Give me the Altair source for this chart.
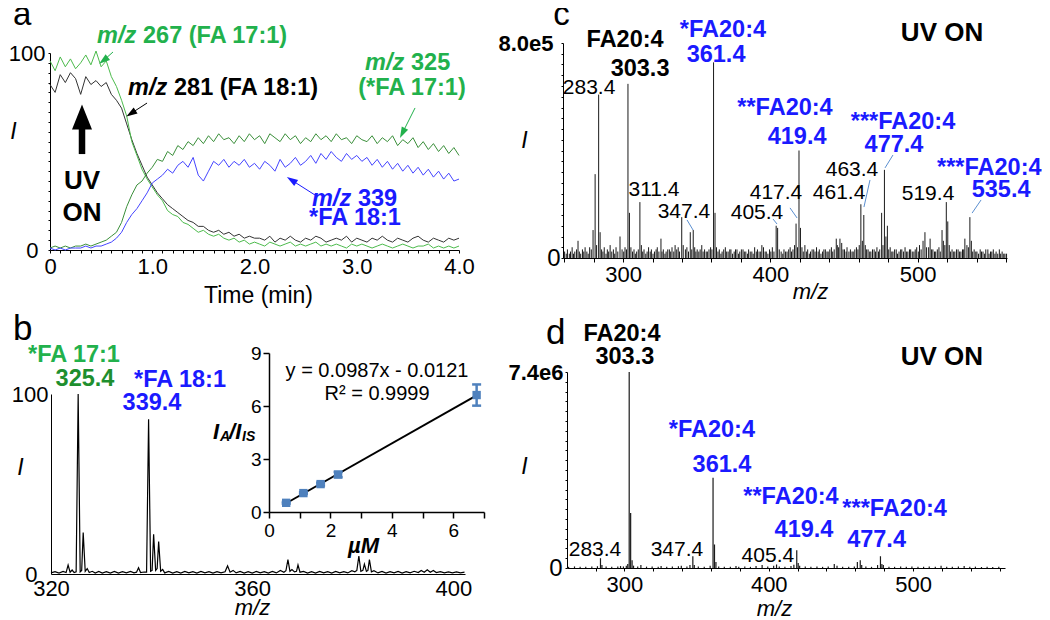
import altair as alt
import pandas as pd

W, H = 1034, 612
FONT = "Liberation Sans"
GREEN = "#22b14c"
DKGREEN = "#1e8f2e"
BLUE = "#1a1aff"
LEADER = "#5b8fd0"
MARKER = "#4f81bd"

# ---------------- panel a : ion traces vs time ----------------
a_time = [i / 20 for i in range(81)]  # sampling grid, 0.05 min
a_mz267 = [96, 91, 98, 93, 97, 92, 95, 99, 94, 101, 93, 96, 88, 83, 76, 68, 55, 48, 41, 36,
           32, 28, 25, 20, 18, 17, 14, 13, 11, 9, 10, 8, 7, 8, 6, 5, 6, 4, 5, 3,
           4, 3, 2, 4, 3, 2, 3, 4, 2, 3, 2, 3, 4, 2, 3, 2, 3, 2, 1, 3,
           2, 3, 2, 1, 2, 3, 2, 1, 2, 3, 2, 1, 2, 2, 3, 1, 2, 1, 2, 1, 2]
a_mz281 = [84, 80, 89, 85, 90, 87, 79, 88, 84, 86, 83, 85, 79, 76, 72, 64, 56, 49, 43, 37,
           33, 29, 26, 23, 21, 19, 17, 15, 14, 12, 12, 10, 9, 10, 8, 9, 7, 8, 6, 7,
           6, 6, 5, 7, 4, 6, 5, 7, 5, 4, 6, 5, 7, 6, 4, 5, 6, 5, 7, 4,
           6, 5, 4, 6, 5, 7, 5, 4, 6, 5, 4, 6, 7, 5, 4, 6, 5, 4, 6, 5, 6]
a_mz325 = [1, 2, 1, 2, 1, 2, 2, 3, 2, 3, 4, 5, 7, 9, 14, 22, 28, 33, 35, 39,
           42, 46, 45, 50, 48, 53, 51, 55, 53, 57, 54, 58, 55, 59, 56, 57, 54, 58, 55, 59,
           56, 58, 54, 59, 57, 55, 59, 56, 58, 54, 57, 55, 59, 56, 58, 55, 59, 56, 57, 54,
           58, 56, 55, 58, 54, 57, 55, 58, 53, 56, 54, 57, 52, 55, 51, 54, 50, 53, 49, 52, 48]
a_mz339 = [1, 0, 1, 0, 1, 1, 1, 2, 1, 2, 2, 3, 4, 6, 9, 14, 18, 21, 25, 29,
           34, 36, 38, 41, 39, 43, 45, 42, 47, 38, 35, 40, 45, 43, 46, 42, 45, 43, 46, 42,
           44, 41, 45, 43, 40, 46, 42, 44, 47, 43, 45, 48, 44, 49, 46, 50, 47, 45, 49, 46,
           48, 45, 47, 43, 46, 42, 45, 41, 44, 40, 43, 39, 42, 38, 41, 37, 40, 36, 39, 35, 36]
a_series = ["m/z 281", "m/z 267", "m/z 325", "m/z 339"]
a_colors = ["#333333", "#4cbb4c", "#3a8f3a", "#4545ff"]

# ---------------- panel b : spectrum (m/z, relative intensity) ----------------
b_spectrum = [
    (320.0, 0.6), (320.8, 1.3), (321.6, 0.5), (322.4, 1.4), (323.0, 0.8), (323.4, 5.0), (323.8, 1.0),
    (324.2, 2.2), (324.6, 0.8), (325.0, 1.2), (325.4, 100), (325.8, 1.2), (326.1, 2.0), (326.4, 23),
    (326.8, 1.5), (327.2, 3.0), (327.6, 0.8), (328.2, 1.5), (328.8, 0.5), (329.5, 1.4), (330.2, 0.5),
    (331.0, 1.3), (331.8, 0.5), (332.6, 1.4), (333.4, 0.5), (334.2, 1.3), (335.0, 0.6), (335.8, 1.4),
    (336.5, 0.6), (337.0, 1.0), (337.4, 3.5), (337.8, 0.8), (338.5, 1.1), (339.0, 1.0), (339.4, 86),
    (339.8, 1.5), (340.1, 2.0), (340.4, 22), (340.8, 2.0), (341.1, 3.0), (341.4, 18), (341.8, 1.5),
    (342.2, 2.5), (342.6, 0.6), (343.4, 1.4), (344.2, 0.5), (345.0, 1.3), (345.8, 0.5), (346.6, 1.4),
    (347.4, 0.6), (348.2, 1.3), (349.0, 0.5), (349.8, 1.4), (350.6, 0.6), (351.4, 1.3), (352.2, 0.5),
    (353.0, 1.3), (353.8, 0.6), (354.6, 1.2), (355.1, 4.5), (355.6, 1.0), (356.2, 2.0), (356.8, 0.6),
    (357.6, 1.4), (358.4, 0.5), (359.2, 1.3), (360.0, 0.5), (360.8, 1.4), (361.6, 0.6), (362.4, 1.3),
    (363.2, 0.5), (364.0, 1.4), (364.8, 0.6), (365.6, 2.0), (366.3, 1.0), (366.7, 1.8), (367.1, 8.0),
    (367.5, 1.5), (367.9, 2.5), (368.4, 1.2), (368.8, 1.5), (369.1, 5.0), (369.5, 1.0), (370.2, 1.4),
    (371.0, 0.5), (371.8, 1.3), (372.6, 0.5), (373.4, 1.4), (374.2, 0.6), (375.0, 1.3), (375.8, 0.5),
    (376.6, 1.4), (377.4, 0.6), (378.2, 1.3), (379.0, 0.6), (379.8, 1.8), (380.4, 1.2), (380.8, 2.0),
    (381.2, 10), (381.6, 1.5), (382.0, 2.0), (382.3, 5.5), (382.7, 1.5), (383.0, 2.0), (383.3, 8.0),
    (383.7, 1.2), (384.2, 1.8), (385.0, 0.6), (385.8, 1.4), (386.6, 0.5), (387.4, 1.3), (388.2, 0.6),
    (389.0, 1.4), (389.8, 0.5), (390.6, 1.3), (391.4, 0.6), (392.2, 1.5), (393.0, 0.8), (393.6, 2.0),
    (394.2, 1.0), (394.8, 2.3), (395.4, 1.0), (396.0, 2.0), (396.6, 0.8), (397.4, 1.3), (398.2, 0.6),
    (399.0, 1.2), (399.8, 0.6), (400.6, 1.2), (401.4, 0.6), (402.2, 1.0)]

# ---------------- panel b inset : calibration ----------------
ins_conc = [0.56, 1.12, 1.68, 2.25, 6.76]
ins_ratio = [0.52, 1.07, 1.58, 2.12, 6.62]
ins_err = [0.05, 0.05, 0.08, 0.15, 0.6]

# ---------------- panel c : spectrum (m/z, % of 8.0e5) ----------------
c_peaks = [
    (260.3, 3), (261.4, 2), (262.2, 4), (263.5, 2), (264.3, 3), (265.4, 5), (266.3, 2), (267.2, 3),
    (268.4, 4), (269.4, 8), (270.3, 3), (271.2, 2), (272.4, 4), (273.3, 3), (274.2, 5), (275.4, 3),
    (276.3, 2), (277.3, 5), (278.4, 4), (279.6, 13), (281.0, 39), (282.0, 6), (283.4, 76), (284.4, 12),
    (285.4, 4), (286.3, 3), (287.2, 5), (288.4, 2), (289.3, 4), (290.2, 3), (291.2, 6), (292.3, 3),
    (293.4, 4), (294.3, 2), (295.2, 5), (296.4, 3), (297.9, 10), (299.3, 4), (300.4, 3), (301.3, 5),
    (302.3, 4), (303.3, 81), (304.3, 21), (305.3, 5), (306.4, 3), (307.4, 4), (308.3, 2), (309.2, 3),
    (310.3, 4), (311.4, 26), (312.4, 6), (313.3, 3), (314.2, 4), (315.4, 2), (316.3, 3), (317.3, 5),
    (318.4, 3), (319.2, 4), (320.3, 2), (321.3, 3), (322.4, 4), (323.2, 5), (324.3, 3), (325.7, 9),
    (326.4, 3), (327.3, 4), (328.4, 2), (329.2, 3), (330.3, 4), (331.4, 4), (332.3, 3), (333.2, 5),
    (334.4, 3), (335.3, 6), (336.4, 4), (337.4, 5), (338.3, 3), (339.8, 19), (340.8, 6), (342.3, 4),
    (343.3, 5), (344.4, 3), (345.6, 12), (346.6, 4), (347.6, 13), (348.6, 5), (349.4, 3), (350.3, 4),
    (351.4, 3), (352.3, 4), (353.4, 6), (354.3, 3), (355.3, 4), (356.4, 3), (357.2, 3), (358.3, 4),
    (359.4, 5), (360.3, 4), (361.4, 91), (362.4, 21), (363.4, 5), (364.4, 3), (365.3, 4), (366.4, 2),
    (367.2, 3), (368.3, 4), (369.4, 5), (370.3, 3), (371.3, 3), (372.4, 4), (373.2, 4), (374.3, 2),
    (375.4, 3), (376.3, 4), (377.3, 4), (378.4, 2), (379.2, 3), (380.3, 4), (381.4, 4), (382.3, 3),
    (383.3, 3), (384.4, 2), (385.2, 4), (386.3, 3), (387.4, 3), (388.3, 2), (389.3, 5), (390.4, 3),
    (391.2, 4), (392.3, 3), (393.4, 3), (394.2, 6), (395.3, 5), (396.4, 3), (397.2, 3), (398.3, 2),
    (399.4, 4), (400.3, 3), (401.3, 5), (402.4, 3), (403.9, 15), (404.9, 14), (406.0, 4), (407.3, 3),
    (408.4, 2), (409.2, 4), (410.3, 3), (411.3, 3), (412.4, 4), (413.4, 5), (414.3, 3), (415.3, 4),
    (416.4, 6), (417.4, 16), (418.4, 5), (419.4, 50), (420.4, 14), (421.4, 5), (422.3, 3), (423.4, 6),
    (424.4, 3), (425.3, 4), (426.4, 2), (427.2, 3), (428.3, 4), (429.4, 4), (430.3, 3), (431.3, 5),
    (432.4, 3), (433.2, 4), (434.3, 2), (435.4, 3), (436.3, 4), (437.3, 4), (438.4, 3), (439.2, 3),
    (440.3, 4), (441.4, 5), (442.3, 3), (443.3, 4), (444.7, 9), (445.4, 6), (446.3, 5), (447.2, 9),
    (448.4, 7), (449.3, 4), (450.3, 4), (451.4, 3), (452.0, 5), (453.3, 3), (454.3, 4), (455.4, 3),
    (456.2, 3), (457.3, 4), (458.4, 5), (459.4, 4), (460.3, 6), (461.4, 25), (462.4, 8), (463.4, 20),
    (464.4, 6), (465.3, 4), (466.3, 4), (467.4, 3), (468.2, 3), (469.3, 4), (470.4, 4), (471.3, 3),
    (472.3, 5), (473.4, 3), (474.2, 4), (475.5, 21), (476.4, 6), (477.4, 41), (478.4, 10), (479.4, 15),
    (480.3, 4), (481.3, 5), (482.4, 3), (483.2, 3), (484.3, 4), (485.4, 4), (486.3, 2), (487.3, 3),
    (488.4, 4), (489.2, 4), (490.3, 3), (491.4, 5), (492.3, 3), (493.3, 3), (494.4, 4), (495.2, 4),
    (496.3, 3), (497.4, 3), (498.3, 4), (499.3, 5), (500.4, 3), (501.2, 6), (502.3, 4), (503.6, 8),
    (504.9, 12), (506.0, 5), (507.4, 5), (508.4, 9), (509.4, 4), (510.3, 4), (511.4, 3), (512.2, 3),
    (513.3, 4), (514.4, 5), (515.3, 3), (516.5, 13), (517.4, 8), (518.4, 6), (519.4, 26), (520.4, 17),
    (521.4, 6), (522.3, 3), (523.3, 4), (524.4, 3), (525.2, 3), (526.3, 4), (527.4, 4), (528.3, 3),
    (529.3, 3), (530.4, 4), (531.2, 4), (532.0, 9), (533.4, 6), (534.4, 5), (535.4, 19), (536.4, 8),
    (537.3, 3), (538.3, 4), (539.4, 3), (540.2, 3), (541.3, 2), (542.4, 4), (543.3, 3), (544.3, 3),
    (545.4, 2), (546.2, 4), (547.6, 4), (548.4, 2), (549.4, 3), (550.3, 3), (551.3, 4), (552.4, 2),
    (553.2, 3), (554.3, 2), (555.4, 4), (556.3, 2), (557.3, 3), (558.4, 2), (559.2, 2), (560.3, 2)]

# ---------------- panel d : spectrum (m/z, % of 7.4e6) ----------------
d_peaks = [
    (261.3, 0.6), (265.4, 0.8), (269.3, 0.7), (273.2, 0.6), (277.4, 0.8), (281.3, 0.9), (283.4, 5),
    (284.4, 1.5), (287.3, 0.8), (291.2, 0.7), (295.4, 0.8), (297.3, 1.0), (299.3, 0.8), (301.3, 1.2),
    (302.3, 2), (303.3, 100), (304.3, 28), (305.3, 4), (306.3, 1.2), (309.2, 0.8), (311.4, 1.5),
    (315.3, 0.7), (319.2, 0.8), (323.4, 0.6), (325.4, 1.0), (329.3, 0.7), (333.2, 0.8), (337.4, 0.9),
    (339.4, 1.2), (343.3, 0.8), (345.4, 1.5), (347.4, 6), (348.4, 1.5), (351.2, 0.8), (355.3, 0.7),
    (359.4, 1.2), (361.4, 46), (362.4, 12), (363.4, 3), (365.3, 0.8), (369.2, 0.7), (373.4, 0.6),
    (377.3, 1.0), (379.2, 0.7), (383.4, 0.8), (387.3, 0.6), (391.2, 1.0), (395.4, 1.5), (399.3, 0.8),
    (403.4, 1.2), (405.4, 1.8), (407.3, 0.8), (411.2, 0.6), (415.4, 1.0), (417.4, 1.6), (419.4, 9),
    (420.4, 2.5), (421.4, 1.2), (425.3, 0.8), (429.2, 0.6), (433.4, 0.8), (437.3, 0.6), (441.2, 0.8),
    (445.4, 2), (447.3, 1.2), (451.2, 0.7), (455.4, 0.6), (459.3, 0.8), (461.4, 3), (463.4, 4),
    (464.4, 1.5), (467.3, 0.8), (471.2, 0.6), (475.4, 1.5), (477.4, 6), (478.4, 2), (479.4, 1.5),
    (483.3, 0.7), (487.2, 0.6), (491.4, 0.8), (495.3, 0.6), (499.2, 0.8), (503.4, 0.7), (507.3, 0.6),
    (511.2, 0.8), (515.4, 0.6), (519.4, 1.2), (523.3, 0.7), (527.2, 0.6), (531.4, 0.8), (535.4, 1.0),
    (539.3, 0.6), (543.2, 0.7), (547.4, 0.5), (551.3, 0.6), (555.2, 0.5), (559.4, 0.6)]


# ---------------- helpers ----------------
def lin(domain, rng):
    return alt.Scale(domain=domain, range=rng, zero=False, nice=False)


SA_X = lin([0, 4], [42, 451]);        SA_Y = lin([0, 100], [242, 45])
SB_X = lin([320, 402.3], [43, 457]);  SB_Y = lin([0, 100], [566, 386])
SI_X = lin([0, 7], [261, 476]);       SI_Y = lin([0, 9], [504, 345])
SC_X = lin([259.2, 560.6], [555, 999]); SC_Y = lin([0, 100], [250, 35])
SD_X = lin([260.2, 563.7], [559, 997]); SD_Y = lin([0, 100], [560, 364])


def texts(rows, sx, sy, **kw):
    df = pd.DataFrame(rows, columns=["x", "y", "label"])
    base = dict(font=FONT, fontSize=23.5, fontWeight="bold", align="center", baseline="middle")
    base.update(kw)
    return alt.Chart(df).mark_text(**base).encode(
        x=alt.X("x:Q", scale=sx, axis=None),
        y=alt.Y("y:Q", scale=sy, axis=None),
        text="label:N")


def segs(rows, sx, sy, color, width=1.0):
    df = pd.DataFrame(rows, columns=["x", "y", "x2", "y2"])
    return alt.Chart(df).mark_rule(color=color, strokeWidth=width).encode(
        x=alt.X("x:Q", scale=sx, axis=None), y=alt.Y("y:Q", scale=sy, axis=None),
        x2="x2:Q", y2="y2:Q")


HEAD = "M0,-1L-0.65,1L0.65,1Z"
BIGHEAD = "M0,-1L-0.8,1L0.8,1Z"


def heads(rows, sx, sy, color, shape=HEAD, size=121):
    df = pd.DataFrame(rows, columns=["x", "y", "ang"])
    return alt.Chart(df).mark_point(shape=shape, filled=True, size=size, color=color,
                                    opacity=1, strokeWidth=0).encode(
        x=alt.X("x:Q", scale=sx, axis=None), y=alt.Y("y:Q", scale=sy, axis=None),
        angle=alt.Angle("ang:Q", scale=None))


def cond(test, a, b):
    return {"condition": {"test": test, "value": a}, "value": b}


layers = []

# ---------------- panel a ----------------
dfa = pd.DataFrame({
    "t": a_time * 4,
    "I": a_mz281 + a_mz267 + a_mz325 + a_mz339,
    "s": sum([[s] * len(a_time) for s in a_series], []),
})
layers.append(alt.Chart(dfa).mark_line(strokeWidth=1).encode(
    x=alt.X("t:Q", scale=SA_X, axis=alt.Axis(
        orient="bottom", offset=242 - H, values=[i / 10 for i in range(41)],
        labelExpr="datum.value == 0 ? '0' : (abs(datum.value - round(datum.value)) < 0.001 ? format(datum.value, '.1f') : '')",
        tickSize=3, labelFontSize=22, labelPadding=3, labelFlush=False,
        title="Time (min)", titleFontSize=23, titleFontWeight="normal",
        titleX=250, titleY=45, titleAlign="center", titleBaseline="middle")),
    y=alt.Y("I:Q", scale=SA_Y, axis=alt.Axis(
        orient="left", offset=-42, values=list(range(0, 101, 5)),
        labelExpr="datum.value == 0 || datum.value == 100 ? datum.label : ''",
        tickSize=2, labelFontSize=22, labelPadding=cond("datum.value == 0", 10, 3),
        labelFlush=False,
        title="I", titleFontStyle="italic", titleFontWeight="normal", titleFontSize=23,
        titleAngle=0, titleX=-37, titleY=123, titleAlign="center", titleBaseline="middle")),
    color=alt.Color("s:N", scale=alt.Scale(domain=a_series, range=a_colors), legend=None),
))

layers.append(texts([(-0.362, 114.2, "a")], SA_X, SA_Y, fontSize=33, fontWeight="normal",
                    align="left", baseline="alphabetic"))
layers.append(texts([(0.46, 108.6, "m/z"), (3.081, 94.9, "m/z")], SA_X, SA_Y,
                    color=GREEN, align="left", fontStyle="italic"))
layers.append(texts([(0.46, 108.6, "267 (FA 17:1)"), (3.081, 94.9, "325")], SA_X, SA_Y,
                    color=GREEN, align="left", dx=46))
layers.append(texts([(3.54, 82.2, "(*FA 17:1)")], SA_X, SA_Y, color=GREEN))
layers.append(texts([(0.763, 82.2, "m/z")], SA_X, SA_Y, color="black", align="left", fontStyle="italic"))
layers.append(texts([(0.763, 82.2, "281 (FA 18:1)")], SA_X, SA_Y, color="black", align="left", dx=46))
layers.append(texts([(2.562, 25.9, "m/z")], SA_X, SA_Y, color=BLUE, align="left", fontStyle="italic"))
layers.append(texts([(2.562, 25.9, "339")], SA_X, SA_Y, color=BLUE, align="left", dx=46))
layers.append(texts([(2.983, 16.2, "*FA 18:1")], SA_X, SA_Y, color=BLUE))
layers.append(texts([(0.313, 35.0, "UV"), (0.313, 18.8, "ON")], SA_X, SA_Y, fontSize=26, color="black"))

# arrows in panel a
layers.append(segs([(0.616, 100.5, 0.523, 96.2), (3.570, 72.1, 3.447, 59.4)], SA_X, SA_Y, GREEN))
layers.append(heads([(0.523, 96.2, 232), (3.447, 59.4, 207)], SA_X, SA_Y, GREEN))
layers.append(segs([(0.949, 74.6, 0.792, 69.3)], SA_X, SA_Y, "black"))
layers.append(heads([(0.792, 69.3, 237)], SA_X, SA_Y, "black"))
layers.append(segs([(2.592, 27.9, 2.362, 35.5)], SA_X, SA_Y, BLUE))
layers.append(heads([(2.362, 35.5, 303)], SA_X, SA_Y, BLUE))
layers.append(segs([(0.313, 48.7, 0.313, 62.5)], SA_X, SA_Y, "black", width=6.5))
layers.append(heads([(0.313, 67.5, 0)], SA_X, SA_Y, "black", shape=BIGHEAD, size=625))

# ---------------- panel b ----------------
dfb = pd.DataFrame(b_spectrum, columns=["mz", "I"])
layers.append(alt.Chart(dfb).mark_line(color="black", strokeWidth=1.2).encode(
    x=alt.X("mz:Q", scale=SB_X, axis=alt.Axis(
        orient="bottom", offset=566 - H, values=[320, 360, 400], ticks=False,
        labelFontSize=22, labelPadding=4, labelFlush=False,
        title="m/z", titleFontStyle="italic", titleFontWeight="normal", titleFontSize=22,
        titleX=244, titleY=33, titleAlign="center", titleBaseline="middle")),
    y=alt.Y("I:Q", scale=SB_Y, axis=alt.Axis(
        orient="left", offset=-43, values=[0, 100], ticks=False, labelFlush=False,
        labelFontSize=22, labelPadding=cond("datum.value == 0", 14, 3),
        title="I", titleFontStyle="italic", titleFontWeight="normal", titleFontSize=23,
        titleAngle=0, titleX=-31, titleY=459, titleAlign="center", titleBaseline="middle")),
))
layers.append(texts([(312.45, 130, "b")], SB_X, SB_Y, fontSize=35, fontWeight="normal",
                    align="left", baseline="alphabetic"))
layers.append(texts([(324.57, 121.7, "*FA 17:1")], SB_X, SB_Y, color=GREEN))
layers.append(texts([(326.76, 108.3, "325.4")], SB_X, SB_Y, color=DKGREEN))
layers.append(texts([(345.65, 107.8, "*FA 18:1"), (340.08, 95.0, "339.4")], SB_X, SB_Y, color=BLUE))

# ---------------- inset ----------------
dfi = pd.DataFrame({"conc": ins_conc, "ratio": ins_ratio, "err": ins_err})
dfi["lo"] = dfi["ratio"] - dfi["err"]
dfi["hi"] = dfi["ratio"] + dfi["err"]
ix = alt.X("conc:Q", scale=SI_X, axis=None)
layers.append(alt.Chart(dfi).transform_regression("conc", "ratio").mark_line(
    color="black", strokeWidth=2).encode(
    x=alt.X("conc:Q", scale=SI_X, axis=alt.Axis(
        orient="bottom", offset=504 - H, values=list(range(8)),
        labelExpr="datum.value % 2 == 0 ? datum.label : ''", labelFlush=False,
        tickSize=6, tickWidth=1.5, domainWidth=1.5, labelFontSize=19, labelPadding=3,
        title="µM", titleFontStyle="italic", titleFontWeight="bold", titleFontSize=22,
        titleX=355, titleY=33, titleAlign="center", titleBaseline="middle")),
    y=alt.Y("ratio:Q", scale=SI_Y, axis=alt.Axis(
        orient="left", offset=-261, values=[0, 3, 6, 9], tickSize=6, tickWidth=1.5,
        labelFlush=False, domainWidth=1.5, labelFontSize=19, labelPadding=2, title=None)),
))
layers.append(alt.Chart(dfi).mark_rule(color=MARKER, strokeWidth=2.5).encode(
    x=ix, y=alt.Y("lo:Q", scale=SI_Y, axis=None), y2="hi:Q"))
for fld in ["lo", "hi"]:
    layers.append(alt.Chart(dfi).mark_tick(orient="horizontal", size=9, thickness=2.5,
                                           color=MARKER, opacity=1).encode(
        x=ix, y=alt.Y(f"{fld}:Q", scale=SI_Y, axis=None)))
layers.append(alt.Chart(dfi).mark_square(size=70, color=MARKER, opacity=1).encode(
    x=ix, y=alt.Y("ratio:Q", scale=SI_Y, axis=None)))
layers.append(texts([(3.517, 7.98, "y = 0.0987x - 0.0121"), (3.517, 6.68, "R² = 0.9999")],
                    SI_X, SI_Y, fontSize=20, fontWeight="normal", color="black"))
layers.append(texts([(-1.82, 4.53, "I")], SI_X, SI_Y, fontSize=22, fontStyle="italic", align="left"))
layers.append(texts([(-1.82, 4.53, "A")], SI_X, SI_Y, fontSize=14, fontStyle="italic", align="left", dx=7, dy=5))
layers.append(texts([(-1.82, 4.53, "/I")], SI_X, SI_Y, fontSize=22, fontStyle="italic", align="left", dx=16))
layers.append(texts([(-1.82, 4.53, "IS")], SI_X, SI_Y, fontSize=14, fontStyle="italic", align="left", dx=29, dy=5))

# ---------------- panel c ----------------
dfc = pd.DataFrame(c_peaks, columns=["mz", "I"])
layers.append(alt.Chart(dfc).mark_rule(color="#1a1a1a", strokeWidth=1).encode(
    x=alt.X("mz:Q", scale=SC_X, axis=alt.Axis(
        orient="bottom", offset=250 - H, values=list(range(260, 561, 20)),
        labelExpr="datum.value % 100 == 0 ? datum.label : ''", labelFlush=False,
        tickSize=4, labelFontSize=22, labelPadding=2,
        title="m/z", titleFontStyle="italic", titleFontWeight="normal", titleFontSize=22,
        titleX=802, titleY=33, titleAlign="center", titleBaseline="middle")),
    y=alt.Y("I:Q", scale=SC_Y, axis=alt.Axis(
        orient="left", offset=-555, values=list(range(0, 101, 5)), labelFlush=False,
        labelExpr="datum.value == 100 ? '8.0e5' : (datum.value == 0 ? '0' : '')",
        tickSize=2, labelFontSize=cond("datum.value == 100", 22, 24),
        labelFontWeight=cond("datum.value == 100", "bold", "normal"),
        labelPadding=cond("datum.value == 100", 8, 1),
        title="I", titleFontStyle="italic", titleFontWeight="normal", titleFontSize=23,
        titleAngle=0, titleX=-39, titleY=132, titleAlign="center", titleBaseline="middle")),
    y2=alt.datum(0),
))
layers.append(texts([(252.5, 108.4, "c")], SC_X, SC_Y, fontSize=33, fontWeight="normal",
                    align="left", baseline="alphabetic"))
layers.append(texts([(301.36, 101.4, "FA20:4"), (311.5, 87.9, "303.3")], SC_X, SC_Y, color="black"))
layers.append(texts([(367.8, 106.0, "*FA20:4"), (363.1, 94.4, "361.4"),
                     (409.9, 69.8, "**FA20:4"), (418.1, 56.3, "419.4"),
                     (490.0, 63.3, "***FA20:4"), (483.9, 52.6, "477.4"),
                     (548.6, 41.9, "***FA20:4"), (556.6, 31.6, "535.4")], SC_X, SC_Y, color=BLUE))
layers.append(texts([(516.5, 104.7, "UV ON")], SC_X, SC_Y, fontSize=26, color="black"))
layers.append(texts([(276.9, 79.1, "283.4"), (321.0, 31.6, "311.4"), (341.3, 21.4, "347.4"),
                     (390.9, 20.9, "405.4"), (403.8, 30.2, "417.4"), (455.4, 40.9, "463.4"),
                     (446.6, 30.2, "461.4"), (507.0, 29.8, "519.4")], SC_X, SC_Y,
                    fontSize=21, fontWeight="normal", color="black"))
layers.append(segs([(343.4, 17.7, 347.5, 13.0), (401.8, 18.1, 404.5, 15.8),
                    (413.3, 23.3, 418.1, 18.6), (467.6, 36.3, 463.5, 23.7),
                    (483.2, 47.9, 477.8, 41.9), (543.0, 27.0, 536.9, 20.9)], SC_X, SC_Y, LEADER))

# ---------------- panel d ----------------
dfd = pd.DataFrame(d_peaks, columns=["mz", "I"])
layers.append(alt.Chart(dfd).mark_rule(color="#1a1a1a", strokeWidth=1.2).encode(
    x=alt.X("mz:Q", scale=SD_X, axis=alt.Axis(
        orient="bottom", offset=560 - H, values=list(range(280, 561, 20)),
        labelExpr="datum.value % 100 == 0 ? datum.label : ''", labelFlush=False,
        tickSize=3, labelFontSize=22, labelPadding=3,
        title="m/z", titleFontStyle="italic", titleFontWeight="normal", titleFontSize=22,
        titleX=766, titleY=40, titleAlign="center", titleBaseline="middle")),
    y=alt.Y("I:Q", scale=SD_Y, axis=alt.Axis(
        orient="left", offset=-559, values=list(range(0, 101, 5)), labelFlush=False,
        labelExpr="datum.value == 100 ? '7.4e6' : (datum.value == 0 ? '0' : '')",
        tickSize=2, labelFontSize=cond("datum.value == 100", 22, 24),
        labelFontWeight=cond("datum.value == 100", "bold", "normal"),
        labelPadding=cond("datum.value == 100", 2, 3),
        title="I", titleFontStyle="italic", titleFontWeight="normal", titleFontSize=23,
        titleAngle=0, titleX=-43, titleY=458, titleAlign="center", titleBaseline="middle")),
    y2=alt.datum(0),
))
layers.append(texts([(245.6, 114.4, "d")], SD_X, SD_Y, fontSize=35, fontWeight="normal",
                    align="left", baseline="alphabetic"))
layers.append(texts([(298.3, 119.4, "FA20:4"), (300.3, 107.7, "303.3")], SD_X, SD_Y, color="black"))
layers.append(texts([(360.6, 70.4, "*FA20:4"), (367.6, 52.6, "361.4"),
                     (415.4, 36.2, "**FA20:4"), (424.4, 19.4, "419.4"),
                     (487.2, 30.1, "***FA20:4"), (474.7, 14.3, "477.4")], SD_X, SD_Y, color=BLUE))
layers.append(texts([(520.0, 107.7, "UV ON")], SD_X, SD_Y, fontSize=26, color="black"))
layers.append(texts([(279.6, 9.2, "283.4"), (336.4, 9.2, "347.4"), (399.4, 6.1, "405.4")],
                    SD_X, SD_Y, fontSize=21, fontWeight="normal", color="black"))

chart = alt.layer(*layers).resolve_scale(x="independent", y="independent").properties(
    width=W, height=H, padding=0, autosize=alt.AutoSizeParams(type="none"),
).configure(font=FONT).configure_view(stroke=None).configure_axis(
    grid=False, domainColor="black", tickColor="black", labelColor="black",
    titleColor="black", labelFont=FONT, titleFont=FONT)

chart.save("out.html", embed_options={"renderer": "svg", "actions": False})
